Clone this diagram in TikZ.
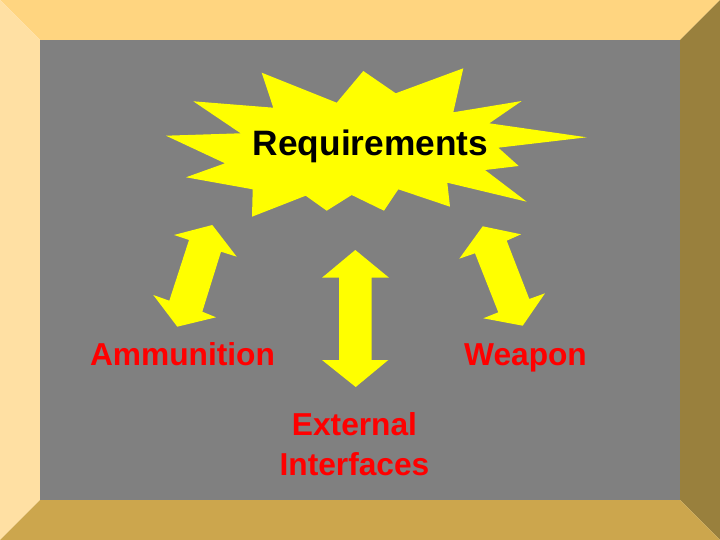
\documentclass[tikz,border=0pt]{standalone}
\usepackage{fontspec}
\setmainfont{Liberation Sans}
\definecolor{frameTop}{HTML}{FFD580}
\definecolor{frameLeft}{HTML}{FFE0A3}
\definecolor{frameRight}{HTML}{99803D}
\definecolor{frameBottom}{HTML}{CCA64D}
\definecolor{panel}{HTML}{808080}
\definecolor{burst}{HTML}{FFFF00}
\definecolor{labelred}{HTML}{FF0000}
\tikzset{
  shapefill/.style={fill=burst,draw=none},
  redlabel/.style={text=labelred,font=\fontsize{31.7}{39.5}\selectfont\bfseries,inner sep=0pt,align=center},
  blacklabel/.style={text=black,font=\fontsize{35.3}{42}\selectfont\bfseries,inner sep=0pt}
}
\begin{document}
\begin{tikzpicture}[x=1pt,y=-1pt]
\useasboundingbox (0,0) rectangle (720,540);
\fill[frameTop] (0,0) -- (720,0) -- (680,40) -- (40,40) -- cycle;
\fill[frameLeft] (0,0) -- (40,40) -- (40,500) -- (0,540) -- cycle;
\fill[frameRight] (720,0) -- (720,540) -- (680,500) -- (680,40) -- cycle;
\fill[frameBottom] (0,540) -- (40,500) -- (680,500) -- (720,540) -- cycle;
\fill[panel] (40,40) rectangle (680,500);
\fill[shapefill] (261.7,72.7) -- (336.7,102.7) -- (363.3,71) -- (395.7,93.3) -- (463.3,68.3) -- (453.3,112.3) -- (521.7,101) -- (489.3,123.3) -- (586.7,137.3) -- (498.3,147.7) -- (518.7,166) -- (485,170) -- (526.7,201.7) -- (447.3,182.7) -- (450,206.7) -- (398.3,189.3) -- (384,210.7) -- (351.7,195) -- (326.7,210.7) -- (305.7,195.7) -- (252,216.7) -- (252.7,189.3) -- (186,177.3) -- (225,163.3) -- (166,135.7) -- (240.7,133.3) -- (193.3,101.3) -- (273.3,107.7) -- cycle;
\fill[shapefill] (212.3,225) -- (236.7,256.7) -- (221,251.7) -- (202.3,311.7) -- (216,317.3) -- (177.3,326.7) -- (153.3,295) -- (169.3,300.7) -- (189,240) -- (174,235) -- cycle;
\fill[shapefill] (355.3,250) -- (389,277.7) -- (371.7,277.7) -- (371.7,360) -- (388.3,360) -- (355.7,387) -- (322,360) -- (339,360) -- (339,277.7) -- (322,277.7) -- cycle;
\fill[shapefill] (482.7,226.3) -- (521,234.3) -- (506.7,240.7) -- (529.3,299) -- (545,293.3) -- (522.7,325.7) -- (483.3,318.3) -- (498.3,312.3) -- (475,253.3) -- (459.3,258.7) -- cycle;
\node[blacklabel,anchor=base] (req) at (370.5,155.5) {Requirements};
\node[redlabel,anchor=base] (amm) at (182.5,365.5) {Ammunition};
\node[redlabel,anchor=base] (wea) at (525.5,365.5) {Weapon};
\node[redlabel,anchor=base] (ext) at (354.5,475) {External\\Interfaces};
\end{tikzpicture}
\end{document}
